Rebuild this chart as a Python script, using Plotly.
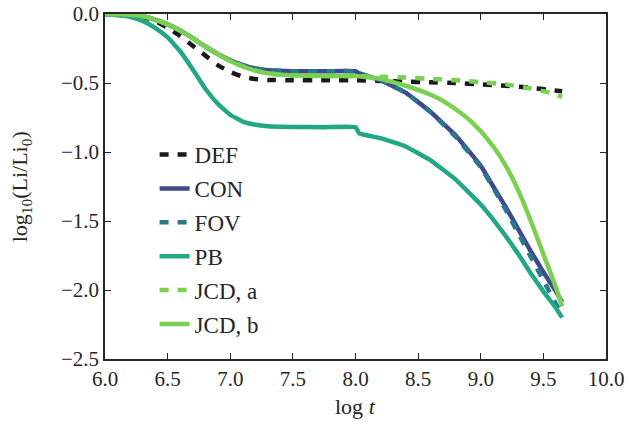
import plotly.graph_objects as go

# ---- data ----
def_x = [6.0, 6.2, 6.3, 6.4, 6.5, 6.6, 6.7, 6.8, 6.9, 7.0, 7.1, 7.2, 7.3, 7.5, 7.75, 8.0, 8.2, 8.4, 8.6, 8.8, 9.0, 9.2, 9.4, 9.55, 9.65]
def_y = [0.0, -0.004, -0.02, -0.05, -0.10, -0.16, -0.23, -0.30, -0.37, -0.42, -0.455, -0.472, -0.478, -0.48, -0.48, -0.48, -0.485, -0.49, -0.495, -0.50, -0.51, -0.52, -0.535, -0.55, -0.56]

con_x = [6.0, 6.2, 6.3, 6.4, 6.5, 6.6, 6.7, 6.8, 6.9, 7.0, 7.1, 7.2, 7.3, 7.5, 7.75, 8.0, 8.03, 8.2, 8.4, 8.6, 8.8, 9.0, 9.1, 9.2, 9.3, 9.4, 9.5, 9.6, 9.65]
con_y = [0.0, -0.003, -0.015, -0.04, -0.075, -0.12, -0.175, -0.235, -0.29, -0.335, -0.37, -0.395, -0.408, -0.415, -0.415, -0.415, -0.43, -0.48, -0.57, -0.71, -0.88, -1.10, -1.25, -1.40, -1.56, -1.72, -1.87, -2.01, -2.09]

fov_x = [6.0, 6.2, 6.3, 6.4, 6.5, 6.6, 6.7, 6.8, 6.9, 7.0, 7.1, 7.2, 7.3, 7.5, 7.75, 8.0, 8.03, 8.2, 8.4, 8.6, 8.8, 9.0, 9.1, 9.2, 9.3, 9.4, 9.5, 9.6, 9.65]
fov_y = [0.0, -0.003, -0.015, -0.04, -0.075, -0.12, -0.175, -0.235, -0.29, -0.335, -0.37, -0.395, -0.408, -0.415, -0.415, -0.415, -0.43, -0.48, -0.57, -0.71, -0.89, -1.11, -1.26, -1.42, -1.59, -1.76, -1.93, -2.10, -2.18]

pb_x = [6.0, 6.2, 6.3, 6.4, 6.5, 6.6, 6.7, 6.8, 6.9, 7.0, 7.1, 7.2, 7.3, 7.5, 7.75, 8.0, 8.03, 8.2, 8.4, 8.6, 8.8, 9.0, 9.1, 9.2, 9.3, 9.4, 9.5, 9.6, 9.65]
pb_y = [0.0, -0.02, -0.05, -0.10, -0.17, -0.27, -0.40, -0.54, -0.65, -0.73, -0.78, -0.803, -0.813, -0.818, -0.82, -0.82, -0.865, -0.90, -0.96, -1.06, -1.20, -1.38, -1.49, -1.61, -1.74, -1.88, -2.01, -2.13, -2.20]

jcda_x = [6.0, 6.2, 6.3, 6.4, 6.5, 6.6, 6.7, 6.8, 6.9, 7.0, 7.1, 7.2, 7.3, 7.4, 7.5, 7.75, 8.0, 8.2, 8.4, 8.6, 8.8, 9.0, 9.2, 9.4, 9.55, 9.65]
jcda_y = [0.0, -0.003, -0.015, -0.04, -0.075, -0.12, -0.175, -0.235, -0.29, -0.34, -0.38, -0.41, -0.43, -0.44, -0.445, -0.45, -0.45, -0.455, -0.46, -0.47, -0.48, -0.495, -0.51, -0.54, -0.57, -0.60]

jcdb_x = [6.0, 6.2, 6.3, 6.4, 6.5, 6.6, 6.7, 6.8, 6.9, 7.0, 7.1, 7.2, 7.3, 7.4, 7.5, 7.75, 8.0, 8.2, 8.4, 8.6, 8.7, 8.8, 8.9, 9.0, 9.1, 9.2, 9.3, 9.4, 9.5, 9.6, 9.65]
jcdb_y = [0.0, -0.003, -0.015, -0.04, -0.075, -0.12, -0.175, -0.235, -0.29, -0.34, -0.38, -0.41, -0.43, -0.44, -0.445, -0.45, -0.45, -0.47, -0.52, -0.585, -0.63, -0.69, -0.76, -0.85, -0.96, -1.10, -1.28, -1.50, -1.74, -1.98, -2.12]

series = [
    ("DEF", def_x, def_y, "#1a1a1a", "9px,9px"),
    ("CON", con_x, con_y, "#3e4a89", "solid"),
    ("FOV", fov_x, fov_y, "#2a788e", "9px,9px"),
    ("PB", pb_x, pb_y, "#22a884", "solid"),
    ("JCD, a", jcda_x, jcda_y, "#7ad151", "9px,9px"),
    ("JCD, b", jcdb_x, jcdb_y, "#7ad151", "solid"),
]

x_ticks = [6.0, 6.5, 7.0, 7.5, 8.0, 8.5, 9.0, 9.5, 10.0]
y_ticks = [0.0, -0.5, -1.0, -1.5, -2.0, -2.5]

FONT = "Liberation Serif"

fig = go.Figure()
for i, (name, xs, ys, col, dash) in enumerate(series):
    fig.add_trace(go.Scatter(
        x=xs, y=ys, mode="lines", name=name, legendgroup=f"g{i}",
        line=dict(color=col, width=4.5, dash=dash, shape="spline", smoothing=0.3),
    ))

axis_common = dict(
    showline=True, linecolor="#262626", linewidth=1.6, mirror="ticks",
    ticks="inside", ticklen=6, tickwidth=1.3, tickcolor="#262626",
    showgrid=False, zeroline=False, tickformat=".1f", automargin=False,
    ticklabeloverflow="allow",
    tickfont=dict(family=FONT, size=21, color="#262626"),
)

fig.update_layout(
    width=629, height=428,
    margin=dict(l=105, r=23, t=14, b=69),
    paper_bgcolor="white", plot_bgcolor="white",
    font=dict(family=FONT, color="#262626"),
    xaxis=dict(range=[6.0, 10.0], tickvals=x_ticks, **axis_common),
    yaxis=dict(range=[-2.5, 0.0], tickvals=y_ticks, **axis_common),
    legend=dict(x=0.099, y=0.655, xanchor="left", yanchor="top",
                bgcolor="rgba(0,0,0,0)", font=dict(family=FONT, size=23, color="#262626"),
                tracegroupgap=1, itemwidth=30),
    showlegend=True,
    annotations=[
        dict(text="log <i>t</i>", xref="paper", yref="paper", x=0.5, y=-0.095,
             xanchor="center", yanchor="top", showarrow=False,
             font=dict(family=FONT, size=22, color="#262626")),
        dict(text="log<sub>10</sub>(Li/Li<sub>0</sub>)", xref="paper", yref="paper",
             x=-0.168, y=0.5, xanchor="center", yanchor="middle", textangle=-90,
             showarrow=False, font=dict(family=FONT, size=22, color="#262626")),
    ],
)

fig.write_html("out.html", config={"displayModeBar": False},
               post_script="document.body.style.margin='0';")
